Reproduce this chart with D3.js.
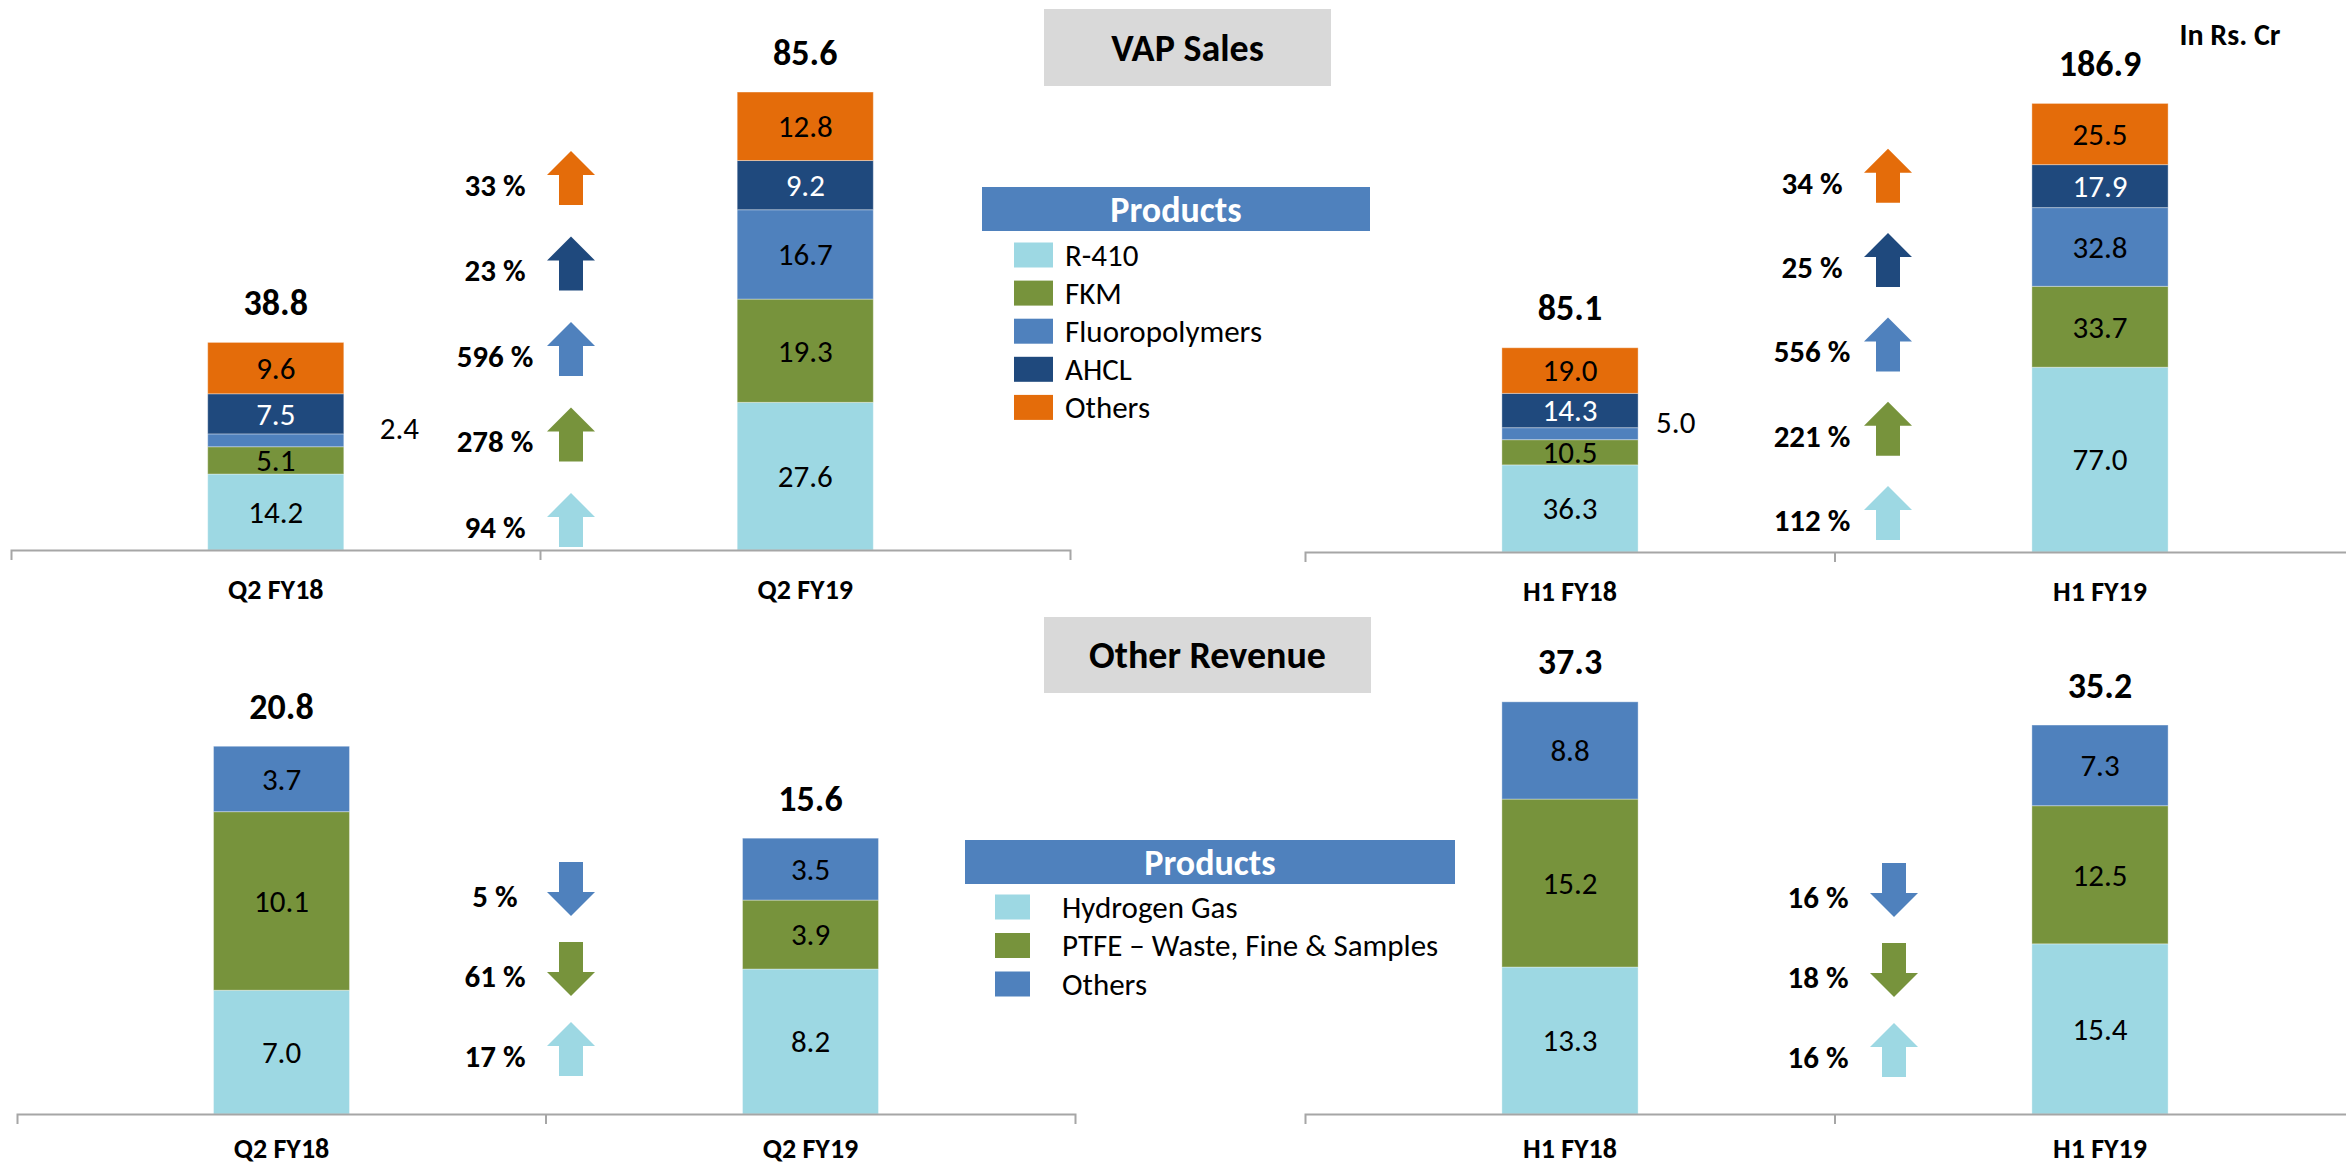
<!DOCTYPE html>
<html>
<head>
<meta charset="utf-8">
<script src="https://cdn.jsdelivr.net/npm/d3@7"></script>
<style>
  body { margin: 0; background: #fff; }
  svg { font-family: Carlito, Lato, sans-serif; }
</style>
</head>
<body>
<script>
// ---- data ----
const q2Cats = ['Q2 FY18', 'Q2 FY19'];
const h1Cats = ['H1 FY18', 'H1 FY19'];

const vapSeries = ['R-410', 'FKM', 'Fluoropolymers', 'AHCL', 'Others'];
const vapColors = ['#9DD8E3', '#77933C', '#4F81BD', '#1F497D', '#E46C0A'];
const vapQ2 = [[14.2, 5.1, 2.4, 7.5, 9.6], [27.6, 19.3, 16.7, 9.2, 12.8]];
const vapH1 = [[36.3, 10.5, 5.0, 14.3, 19.0], [77.0, 33.7, 32.8, 17.9, 25.5]];
const vapQ2Totals = [38.8, 85.6];
const vapH1Totals = [85.1, 186.9];
const vapQ2Growth = [94, 278, 596, 23, 33];
const vapH1Growth = [112, 221, 556, 25, 34];

const otherSeries = ['Hydrogen Gas', 'PTFE \u2013 Waste, Fine & Samples', 'Others'];
const otherColors = ['#9DD8E3', '#77933C', '#4F81BD'];
const otherQ2 = [[7.0, 10.1, 3.7], [8.2, 3.9, 3.5]];
const otherH1 = [[13.3, 15.2, 8.8], [15.4, 12.5, 7.3]];
const otherQ2Totals = [20.8, 15.6];
const otherH1Totals = [37.3, 35.2];
const otherQ2Growth = [17, -61, -5];
const otherH1Growth = [16, -18, -16];

const W = 2346, H = 1168;
const svg = d3.select('body').append('svg').attr('width', W).attr('height', H);

function panel(cfg) {
  const g = svg.append('g');
  const x = d3.scaleBand().domain(cfg.cats).range(cfg.xr);
  const y = d3.scaleLinear().domain([0, cfg.max]).range([cfg.base, cfg.top]);
  const bw = x.bandwidth() * 0.257;

  cfg.values.forEach((vals, ci) => {
    const cx = x(cfg.cats[ci]) + x.bandwidth() / 2;
    const stack = d3.cumsum(vals);
    const segs = vals.map((v, i) => ({v: v, i: i, y0: stack[i] - v, y1: stack[i]}));
    const small = d => (y(d.y0) - y(d.y1)) < 20;

    g.selectAll(null).data(segs).enter().append('rect')
      .attr('x', cx - bw / 2)
      .attr('width', bw)
      .attr('y', d => y(d.y1))
      .attr('height', d => y(d.y0) - y(d.y1))
      .attr('fill', d => cfg.colors[d.i])
      .attr('stroke', 'rgba(255,255,255,0.35)')
      .attr('stroke-width', 1);

    g.selectAll(null).data(segs).enter().append('text')
      .attr('x', d => small(d) ? cx + bw / 2 + cfg.outOff : cx)
      .attr('y', d => small(d) ? (y(d.y0) + y(d.y1)) / 2 - 12 : (y(d.y0) + y(d.y1)) / 2)
      .attr('dy', '0.35em')
      .attr('text-anchor', d => small(d) ? 'start' : 'middle')
      .attr('font-size', 31)
      .attr('fill', d => (cfg.white === d.i && !small(d)) ? '#fff' : '#000')
      .text(d => d.v.toFixed(1));

    g.append('text')
      .attr('x', cx)
      .attr('y', y(cfg.totals[ci]) - 40)
      .attr('dy', '0.35em')
      .attr('text-anchor', 'middle')
      .attr('font-size', 36)
      .attr('font-weight', 'bold')
      .text(cfg.totals[ci].toFixed(1));
  });

  // axis
  const axis = g.append('g')
    .attr('transform', 'translate(0,' + cfg.base + ')')
    .call(d3.axisBottom(x).tickSizeInner(0).tickSizeOuter(10));
  axis.select('.domain').attr('stroke', '#A6A6A6').attr('stroke-width', 2);
  axis.selectAll('.tick text')
    .attr('y', cfg.labelOff).attr('dy', '0.35em')
    .attr('font-size', 28).attr('font-weight', 'bold')
    .attr('font-family', 'Carlito, Lato, sans-serif').attr('fill', '#000');
  axis.append('line')
    .attr('x1', x(cfg.cats[1])).attr('x2', x(cfg.cats[1]))
    .attr('y1', 0).attr('y2', 10)
    .attr('stroke', '#A6A6A6').attr('stroke-width', 2);

  // growth arrows, stacked bottom to top in series order
  const slots = d3.range(cfg.growth.length);
  const ay = d3.scaleBand().domain(slots).range([cfg.arrowBottom - cfg.arrowStep * slots.length, cfg.arrowBottom]);
  const ah = 54, hw = 24, sw = 12, hh = 24;
  cfg.growth.forEach((gv, i) => {
    const b = ay(slots.length - 1 - i) + ay.bandwidth(), t = b - ah, c = cfg.arrowX;
    let pts;
    if (gv >= 0) {
      pts = [[c, t], [c + hw, t + hh], [c + sw, t + hh], [c + sw, b], [c - sw, b], [c - sw, t + hh], [c - hw, t + hh]];
    } else {
      pts = [[c, b], [c + hw, b - hh], [c + sw, b - hh], [c + sw, t], [c - sw, t], [c - sw, b - hh], [c - hw, b - hh]];
    }
    g.append('polygon')
      .attr('points', pts.map(p => p.join(',')).join(' '))
      .attr('fill', cfg.colors[i]);
    g.append('text')
      .attr('x', c - 76)
      .attr('y', (t + b) / 2 + 7)
      .attr('dy', '0.35em')
      .attr('text-anchor', 'middle')
      .attr('font-size', 31)
      .attr('font-weight', 'bold')
      .text(Math.abs(gv) + ' %');
  });
}

panel({cats: q2Cats, values: vapQ2, totals: vapQ2Totals, growth: vapQ2Growth, colors: vapColors, white: 3, labelOff: 39,
  xr: [11, 1070], base: 550, top: 15, max: 100, outOff: 36, arrowX: 571, arrowBottom: 547, arrowStep: 85.5});
panel({cats: h1Cats, values: vapH1, totals: vapH1Totals, growth: vapH1Growth, colors: vapColors, white: 3, labelOff: 39,
  xr: [1305, 2365], base: 552, top: 72, max: 200, outOff: 18, arrowX: 1888, arrowBottom: 540, arrowStep: 84.3});
panel({cats: q2Cats, values: otherQ2, totals: otherQ2Totals, growth: otherQ2Growth, colors: otherColors, white: -1, labelOff: 34,
  xr: [17, 1075], base: 1114, top: 672, max: 25, outOff: 20, arrowX: 571, arrowBottom: 1076, arrowStep: 80});
panel({cats: h1Cats, values: otherH1, totals: otherH1Totals, growth: otherH1Growth, colors: otherColors, white: -1, labelOff: 34,
  xr: [1305, 2365], base: 1114, top: 672, max: 40, outOff: 20, arrowX: 1894, arrowBottom: 1077, arrowStep: 80});

// title boxes
function titleBox(x0, y0, w, h, label) {
  svg.append('rect').attr('x', x0).attr('y', y0).attr('width', w).attr('height', h).attr('fill', '#D9D9D9');
  svg.append('text').attr('x', x0 + w / 2).attr('y', y0 + h / 2).attr('dy', '0.35em')
    .attr('text-anchor', 'middle').attr('font-size', 38).attr('font-weight', 'bold').text(label);
}
titleBox(1044, 9, 287, 77, 'VAP Sales');
titleBox(1044, 617, 327, 76, 'Other Revenue');

svg.append('text').attr('x', 2230).attr('y', 34).attr('dy', '0.35em').attr('text-anchor', 'middle')
  .attr('font-size', 30).attr('font-weight', 'bold').text('In Rs. Cr');

// legends
function legend(x0, y0, w, names, colors, swX, swW, txX, firstY, step) {
  const g = svg.append('g');
  g.append('rect').attr('x', x0).attr('y', y0).attr('width', w).attr('height', 44).attr('fill', '#4F81BD');
  g.append('text').attr('x', x0 + w / 2).attr('y', y0 + 22).attr('dy', '0.35em').attr('text-anchor', 'middle')
    .attr('font-size', 36).attr('font-weight', 'bold').attr('fill', '#fff').text('Products');
  const it = g.selectAll('g.item').data(names).enter().append('g')
    .attr('transform', (d, i) => 'translate(0,' + (firstY + i * step) + ')');
  it.append('rect').attr('x', swX).attr('y', -12.5).attr('width', swW).attr('height', 25)
    .attr('fill', (d, i) => colors[i]);
  it.append('text').attr('x', txX).attr('dy', '0.35em').attr('font-size', 31).text(d => d);
}
legend(982, 187, 388, vapSeries, vapColors, 1014, 39, 1065, 255, 38.1);
legend(965, 840, 490, otherSeries, otherColors, 995, 35, 1062, 907, 38.5);
</script>
</body>
</html>
